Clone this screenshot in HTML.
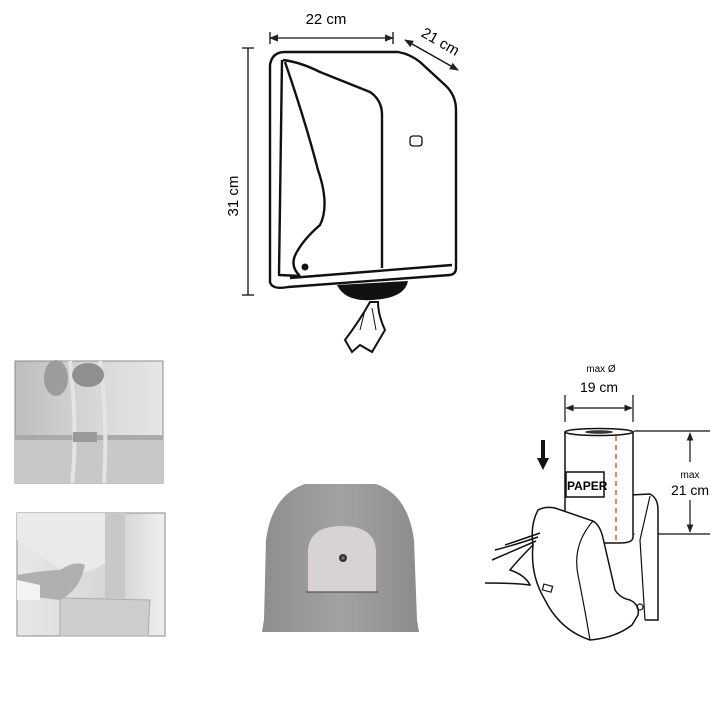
<!DOCTYPE html>
<html><head><meta charset="utf-8"><style>html,body{margin:0;padding:0;background:#fff}svg{display:block}</style></head>
<body>
<svg width="720" height="720" viewBox="0 0 720 720" xmlns="http://www.w3.org/2000/svg" font-family="Liberation Sans, sans-serif">
<defs>
<linearGradient id="g1" x1="0" y1="0" x2="1" y2="0"><stop offset="0" stop-color="#bdbdbd"/><stop offset="0.5" stop-color="#d6d6d6"/><stop offset="1" stop-color="#e6e6e6"/></linearGradient>
<linearGradient id="g2" x1="0" y1="0" x2="1" y2="0"><stop offset="0" stop-color="#e8e8e8"/><stop offset="0.7" stop-color="#d4d4d4"/><stop offset="1" stop-color="#f0f0f0"/></linearGradient>
<linearGradient id="dome" x1="0" y1="0" x2="1" y2="0"><stop offset="0" stop-color="#8e8e8e"/><stop offset="0.5" stop-color="#a2a2a2"/><stop offset="1" stop-color="#8c8c8c"/></linearGradient>
<marker id="ar" viewBox="0 0 10 10" refX="9" refY="5" markerWidth="7" markerHeight="7" orient="auto-start-reverse"><path d="M0,1 L10,5 L0,9 z" fill="#222"/></marker>
</defs>

<!-- top dispenser -->
<g stroke="#111" fill="none" stroke-width="1.3">
  <line x1="270" y1="38" x2="393" y2="38" marker-start="url(#ar)" marker-end="url(#ar)"/>
  <line x1="270" y1="32" x2="270" y2="44"/><line x1="393" y1="32" x2="393" y2="44"/>
  <line x1="405" y1="40" x2="458" y2="70" marker-start="url(#ar)" marker-end="url(#ar)"/>
  <line x1="248" y1="48" x2="248" y2="295"/>
  <line x1="242" y1="48" x2="254" y2="48"/><line x1="242" y1="295" x2="254" y2="295"/>
</g>
<text x="326" y="24" font-size="15" text-anchor="middle">22 cm</text>
<text x="438" y="46" font-size="15" text-anchor="middle" transform="rotate(30 438 46)">21 cm</text>
<text x="238" y="196" font-size="15" text-anchor="middle" transform="rotate(-90 238 196)">31 cm</text>
<g stroke="#111" fill="none" stroke-width="2.4" stroke-linejoin="round">
  <path d="M285,52 L398,52 Q410,54 420,62 L445,85 Q456,95 456,110 L456,268 Q456,274 450,275 L288,287 Q272,290 270,282 L270,65 Q272,52 285,52 Z"/>
  <path d="M282,60 L279,275 L300,276"/>
  <path d="M283,60 Q300,62 320,72 L370,92 Q382,100 382,115 L382,268"/>
  <path d="M285,62 Q305,120 318,170 Q330,205 320,225 Q305,238 298,250 Q288,265 300,276"/>
  <path d="M290,278 L452,265"/>
  <rect x="410" y="136" width="12" height="10" rx="3" stroke-width="1.3"/>
</g>
<circle cx="305" cy="267" r="3.5" fill="#111"/>
<path d="M337,285 L408,281 Q405,298 373,300 Q345,302 337,285 Z" fill="#111"/>
<path d="M370,302 Q360,320 345,340 L352,352 L360,345 L372,352 L385,330 Q378,315 378,302 Z" fill="#fff" stroke="#111" stroke-width="2"/>
<path d="M365,310 L360,330 M372,308 L376,330" stroke="#111" stroke-width="1"/>

<!-- photo 1 -->
<rect x="15" y="361" width="148" height="122" fill="url(#g1)" stroke="#8a8a8a"/>
<rect x="15" y="435" width="148" height="5" fill="#aaa"/>
<rect x="15" y="440" width="148" height="43" fill="#c8c8c8"/>
<path d="M70,361 Q78,430 72,483 M100,361 Q108,420 104,483" stroke="#e4e4e4" stroke-width="4" fill="none"/>
<rect x="73" y="432" width="24" height="10" fill="#9a9a9a"/>
<ellipse cx="56" cy="378" rx="12" ry="18" fill="#9c9c9c"/>
<ellipse cx="88" cy="375" rx="16" ry="12" fill="#8f8f8f"/>

<!-- photo 2 -->
<rect x="17" y="513" width="148" height="123" fill="url(#g2)" stroke="#8a8a8a"/>
<path d="M17,513 L110,513 L118,555 Q90,575 70,575 L17,540 Z" fill="#eaeaea"/>
<rect x="105" y="513" width="20" height="85" fill="#c8c8c8"/>
<path d="M60,598 L150,600 L148,636 L60,636 Z" fill="#cdcdcd" stroke="#aaa"/>
<path d="M17,575 Q45,570 60,570 Q75,560 85,565 Q80,590 60,600 L17,595 Z" fill="#b0b0b0"/>
<path d="M17,580 L40,585 L40,600 L17,600 Z" fill="#f4f4f4"/>

<!-- dome -->
<path d="M305,484 L376,484 Q408,495 414,540 L417,620 L419,632 L262,632 L264,620 L266,540 Q272,495 305,484 Z" fill="url(#dome)"/>
<path d="M308,592 L308,550 Q310,526 342,526 Q374,526 376,550 L376,592 Z" fill="#d8d2d4"/>
<line x1="306" y1="592" x2="378" y2="592" stroke="#555" stroke-width="1.2"/>
<circle cx="343" cy="558" r="4" fill="#333"/>
<circle cx="343" cy="558" r="1.6" fill="#777"/>

<!-- right drawing -->
<text x="601" y="372" font-size="10" text-anchor="middle">max Ø</text>
<text x="599" y="392" font-size="14" text-anchor="middle">19 cm</text>
<g stroke="#111" fill="none" stroke-width="1.2">
  <line x1="565" y1="395" x2="565" y2="422"/><line x1="633" y1="395" x2="633" y2="422"/>
  <line x1="566" y1="408" x2="632" y2="408" marker-start="url(#ar)" marker-end="url(#ar)"/>
  <line x1="634" y1="431" x2="710" y2="431"/><line x1="634" y1="534" x2="710" y2="534"/>
  <line x1="690" y1="433" x2="690" y2="462" marker-start="url(#ar)"/>
  <line x1="690" y1="500" x2="690" y2="532" marker-end="url(#ar)"/>
</g>
<text x="690" y="478" font-size="10" text-anchor="middle">max</text>
<text x="690" y="495" font-size="14" text-anchor="middle">21 cm</text>
<path d="M543,440 L543,460" stroke="#111" stroke-width="4"/>
<path d="M537,458 L549,458 L543,470 Z" fill="#111"/>
<!-- back plate -->
<path d="M630,495 L650,494 Q658,498 658,510 L658,620 L645,620" fill="#fff" stroke="#111" stroke-width="1.5"/>
<path d="M650,496 L640,540 L645,620" fill="none" stroke="#111" stroke-width="1.2"/>
<!-- roll -->
<path d="M565,432 L565,537 Q565,543 580,543 L620,543 Q633,543 633,537 L633,432 Z" fill="#fff" stroke="#111" stroke-width="1.5"/>
<ellipse cx="599" cy="432" rx="34" ry="3.5" fill="#fff" stroke="#111" stroke-width="1.5"/>
<ellipse cx="599" cy="432" rx="14" ry="1.8" fill="#333"/>
<line x1="616" y1="436" x2="616" y2="543" stroke="#d06030" stroke-width="1.5" stroke-dasharray="5,4"/>
<rect x="566" y="472" width="38" height="25" fill="#fff" stroke="#111" stroke-width="1.5"/>
<text x="567" y="490" font-size="12" font-weight="bold" font-family="Liberation Sans Narrow, Liberation Sans, sans-serif">PAPER</text>
<!-- lid -->
<path d="M538,510 Q545,506 555,508 L593,521 Q600,525 603,538 L615,590 Q620,598 630,600 Q640,605 638,615 L632,625 Q615,638 590,640 Q560,630 545,600 Q530,575 533,545 Q530,525 538,510 Z" fill="#fff" stroke="#111" stroke-width="1.5"/>
<path d="M593,521 Q572,545 578,575 Q585,610 590,640" fill="none" stroke="#111" stroke-width="1.2"/>
<rect x="543" y="585" width="9" height="6" fill="none" stroke="#111" stroke-width="1.2" transform="rotate(15 547 588)"/>
<circle cx="640" cy="607" r="3" fill="none" stroke="#111" stroke-width="1.2"/>
<path d="M540,533 Q520,540 505,545 M538,537 Q515,545 495,550 M536,541 Q515,550 492,560 M533,545 Q518,560 510,570 Q525,575 530,585 Q515,583 485,583" fill="none" stroke="#111" stroke-width="1.5"/>
</svg>
</body></html>
